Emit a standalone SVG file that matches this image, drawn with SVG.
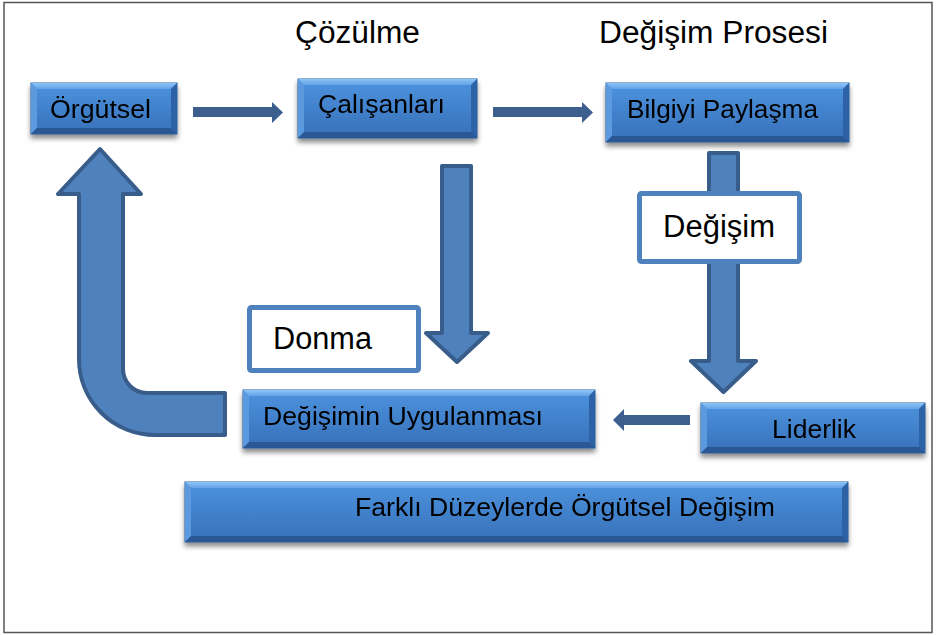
<svg xmlns="http://www.w3.org/2000/svg" width="943" height="635" viewBox="0 0 943 635">
<defs>
<linearGradient id="face" x1="0" y1="0" x2="0" y2="1">
<stop offset="0" stop-color="#4d93de"/>
<stop offset="1" stop-color="#3770b9"/>
</linearGradient>
<linearGradient id="topb" x1="0" y1="0" x2="0" y2="1">
<stop offset="0" stop-color="#8cc4f5"/>
<stop offset="1" stop-color="#62a2e6"/>
</linearGradient>
<filter id="sh" x="-10%" y="-20%" width="120%" height="160%">
<feDropShadow dx="0" dy="4" stdDeviation="2.5" flood-color="#000" flood-opacity="0.45"/>
</filter>
<style>
.face{fill:url(#face);stroke:#2f5f9c;stroke-width:1}
.bt{fill:url(#topb)}
.bl{fill:#5b9ae0}
.br{fill:#2f62a6}
.bb{fill:#2a5894}
.t{font-family:"Liberation Sans",Arial,sans-serif;fill:#000}
.nt{font-size:26px}
.ht{font-size:31px}
.lab{fill:#fff;stroke:#4f81bd;stroke-width:5}
.blk{fill:#4f81bd;stroke:#385d8a;stroke-width:4;stroke-linejoin:round}
.sm{fill:#3c5f8e}
</style>
</defs>
<rect x="4" y="2.5" width="928" height="630" fill="#fff" stroke="#555" stroke-width="1.5"/>

<g id="heading-cozulme"><text class="t ht" x="295" y="43" textLength="125" lengthAdjust="spacingAndGlyphs">Çözülme</text></g>
<g id="heading-degisim-prosesi"><text class="t ht" x="599" y="43" textLength="229" lengthAdjust="spacingAndGlyphs">Değişim Prosesi</text></g>

<g id="connectors">
<polygon class="sm" points="193,107 272,107 272,102 283,112.5 272,123 272,117 193,117"/>
<polygon class="sm" points="493,107 582,107 582,102 593,112.5 582,123 582,117 493,117"/>
<polygon class="sm" points="690,415 624,415 624,409 613,420 624,431 624,425 690,425"/>
<path class="blk" d="M442,166 L471,166 L471,333 L488,333 L457,362 L426,333 L442,333 Z"/>
<path class="blk" d="M709,153 L738,153 L738,361 L756,361 L723.5,392 L691,361 L709,361 Z"/>
<path class="blk" d="M225,393 L147,393 A24,24 0 0 1 123,369 L123,194 L141,194 L100,149 L58,194 L79,194 L79,359 A76,76 0 0 0 155,435 L225,435 Z"/>
</g>

<g id="node-orgutsel" filter="url(#sh)">
<rect class="face" x="31" y="83" width="146" height="51"/>
<polygon class="bt" points="31,83 177,83 171,89 37,89"/>
<polygon class="bl" points="31,83 37,89 37,128 31,134"/>
<polygon class="br" points="177,83 171,89 171,128 177,134"/>
<polygon class="bb" points="31,134 177,134 171,128 37,128"/>
<text class="t nt" x="50" y="118" textLength="101" lengthAdjust="spacingAndGlyphs">Örgütsel</text>
</g>

<g id="node-calisanlari" filter="url(#sh)">
<rect class="face" x="298" y="79" width="179" height="59"/>
<polygon class="bt" points="298,79 477,79 471,85 304,85"/>
<polygon class="bl" points="298,79 304,85 304,132 298,138"/>
<polygon class="br" points="477,79 471,85 471,132 477,138"/>
<polygon class="bb" points="298,138 477,138 471,132 304,132"/>
<text class="t nt" x="318" y="113" textLength="127" lengthAdjust="spacingAndGlyphs">Çalışanları</text>
</g>

<g id="node-bilgiyi-paylasma" filter="url(#sh)">
<rect class="face" x="606" y="83" width="243" height="59"/>
<polygon class="bt" points="606,83 849,83 843,89 612,89"/>
<polygon class="bl" points="606,83 612,89 612,136 606,142"/>
<polygon class="br" points="849,83 843,89 843,136 849,142"/>
<polygon class="bb" points="606,142 849,142 843,136 612,136"/>
<text class="t nt" x="627" y="118" textLength="191" lengthAdjust="spacingAndGlyphs">Bilgiyi Paylaşma</text>
</g>

<g id="node-degisimin-uygulanmasi" filter="url(#sh)">
<rect class="face" x="243" y="390" width="352" height="58"/>
<polygon class="bt" points="243,390 595,390 589,396 249,396"/>
<polygon class="bl" points="243,390 249,396 249,442 243,448"/>
<polygon class="br" points="595,390 589,396 589,442 595,448"/>
<polygon class="bb" points="243,448 595,448 589,442 249,442"/>
<text class="t nt" x="263" y="425" textLength="280" lengthAdjust="spacingAndGlyphs">Değişimin Uygulanması</text>
</g>

<g id="node-liderlik" filter="url(#sh)">
<rect class="face" x="701" y="403" width="224" height="50"/>
<polygon class="bt" points="701,403 925,403 919,409 707,409"/>
<polygon class="bl" points="701,403 707,409 707,447 701,453"/>
<polygon class="br" points="925,403 919,409 919,447 925,453"/>
<polygon class="bb" points="701,453 925,453 919,447 707,447"/>
<text class="t nt" x="772" y="438" textLength="84" lengthAdjust="spacingAndGlyphs">Liderlik</text>
</g>

<g id="node-farkli-duzeyler" filter="url(#sh)">
<rect class="face" x="185" y="482" width="663" height="60"/>
<polygon class="bt" points="185,482 848,482 842,488 191,488"/>
<polygon class="bl" points="185,482 191,488 191,536 185,542"/>
<polygon class="br" points="848,482 842,488 842,536 848,542"/>
<polygon class="bb" points="185,542 848,542 842,536 191,536"/>
<text class="t nt" x="355" y="516" textLength="420" lengthAdjust="spacingAndGlyphs">Farklı Düzeylerde Örgütsel Değişim</text>
</g>

<g id="label-donma">
<rect class="lab" x="249.5" y="307.5" width="169" height="63" rx="2"/>
<text class="t ht" x="273" y="349" textLength="99" lengthAdjust="spacingAndGlyphs">Donma</text>
</g>

<g id="label-degisim">
<rect class="lab" x="639.5" y="193.5" width="160" height="68" rx="2"/>
<text class="t ht" x="663" y="237" textLength="112" lengthAdjust="spacingAndGlyphs">Değişim</text>
</g>
</svg>
